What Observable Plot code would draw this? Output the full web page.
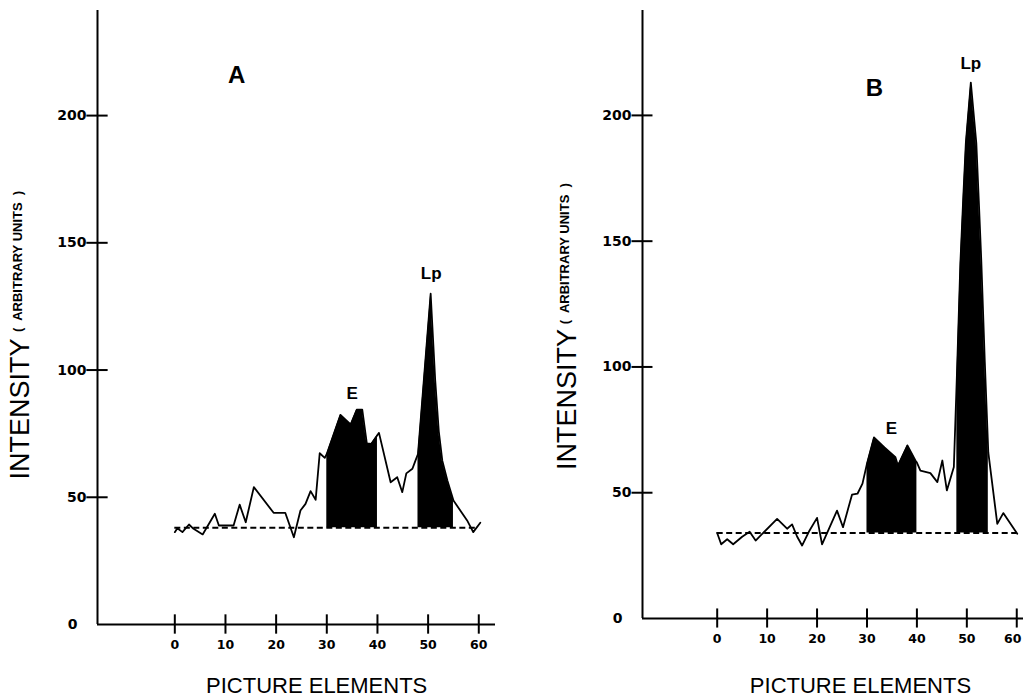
<!DOCTYPE html>
<html><head><meta charset="utf-8">
<script src="https://cdn.jsdelivr.net/npm/d3@7"></script>
<script src="https://cdn.jsdelivr.net/npm/@observablehq/plot@0.6"></script>
<style>
body{margin:0;background:#fff;}
#wrap{position:relative;width:1023px;height:698px;overflow:hidden;background:#fff;}
#wrap > div{position:absolute;top:0;}
</style></head><body>
<div id="wrap"><div id="pa" style="left:0"></div><div id="pb" style="left:545px"></div></div>
<script>
// ---- data ----
const yTicks = [0, 50, 100, 150, 200];
const xTicks = [0, 10, 20, 30, 40, 50, 60];
const panelNames = ["A", "B"];
const peakNames = ["E", "Lp"];
const yTitle = "INTENSITY";
const yUnits = "(  ARBITRARY UNITS  )";
const xTitle = "PICTURE ELEMENTS";

// Panel A intensity profile
const aX = [0, 0.5, 1.5, 2.8, 3.7, 5.5, 7.9, 8.7, 11.6, 12.8, 14, 15.6, 19.5, 21.8, 23.5, 24.8, 25.8, 26.8, 27.8, 28.6, 29.6, 30, 32.7, 34.7, 35.9, 37, 37.9, 38.8, 40, 40.3, 42.6, 43.9, 44.9, 45.7, 46.9, 47.5, 48, 50.5, 51.4, 52.1, 52.8, 53.8, 55, 57.7, 58.9, 60.3];
const aY = [36.3, 37.8, 36.3, 39.3, 37.6, 35.4, 43.5, 38.9, 38.9, 47.1, 40.2, 54, 43.9, 43.9, 34.3, 44.8, 47.4, 52.4, 49, 67.3, 65.5, 67, 82.4, 78.6, 84.4, 84.4, 71.2, 71, 74.5, 75.3, 55.9, 57.9, 52, 59.4, 61.2, 64.4, 67, 130, 96, 76, 64.4, 56.6, 48.7, 40.9, 36.3, 40];
const aBaseline = 38;
const aShade = [[30, 40], [48, 55]];

// Panel B intensity profile
const bX = [0, 0.8, 2, 3.2, 5, 6.5, 7.7, 12, 14, 15, 16, 17, 18.5, 20, 21, 22.4, 24, 25.2, 27, 28.1, 29.1, 30, 31.4, 33.5, 35.7, 36.2, 38.1, 39.7, 40, 40.7, 42.7, 44.1, 45.1, 46, 47.4, 48, 48.7, 49.3, 49.8, 50.8, 51.9, 52.4, 52.9, 53.6, 54.3, 56.1, 57.3, 60.1];
const bY = [34, 29.5, 31.5, 29.5, 32.5, 34.5, 31, 39.6, 35.7, 37.4, 32.6, 29, 35, 40, 29.5, 35.7, 42.9, 36.3, 49.2, 49.6, 53.6, 61.5, 72, 68, 64.1, 60.8, 68.8, 62.8, 62, 58.8, 57.8, 54.2, 62.8, 50.9, 60.2, 96, 141, 168, 189, 213, 189, 166, 142, 102, 66, 37.6, 41.9, 33.7];
const bBaseline = 34;
const bShade = [[30, 40], [48, 54.3]];

// ---- drawing ----
const FONT = "'Liberation Sans', Arial, Helvetica, sans-serif";
const TICKFONT = "'DejaVu Sans', 'Liberation Sans', sans-serif";

function panel(cfg) {
  const pts = cfg.X.map((x, i) => ({x, y: cfg.Y[i]}));
  const [x0, x1] = cfg.xDomain;
  const yTop = cfg.yDomain[1];
  const shades = cfg.shade.map(([lo, hi]) => Plot.areaY(pts.filter(d => d.x >= lo && d.x <= hi), {x: "x", y1: cfg.base, y2: "y", fill: "black"}));
  const tickText = {fontFamily: TICKFONT, fontWeight: "bold", fontSize: 12.5, dy: 20};
  return Plot.plot({
    width: cfg.width, height: 698,
    marginLeft: 97, marginRight: cfg.marginRight, marginTop: 10, marginBottom: cfg.marginBottom,
    x: {domain: cfg.xDomain, axis: null},
    y: {domain: cfg.yDomain, axis: null},
    style: {fontFamily: FONT, background: "white", overflow: "visible"},
    marks: [
      // axes lines
      Plot.ruleX([x0], {y1: 0, y2: yTop, stroke: "black", strokeWidth: 2}),
      Plot.ruleY([0], {x1: x0, x2: x1, stroke: "black", strokeWidth: 2}),
      // y ticks (crossing the axis)
      Plot.ruleY(yTicks.filter(d => d > 0), {y: d => d, x1: x0 - 2.1, x2: x0 + 2.1, stroke: "black", strokeWidth: 2}),
      Plot.text(yTicks.filter(d => d > 0), {x: () => x0, y: d => d, text: d => String(d), textAnchor: "end", dx: -11, fontFamily: TICKFONT, fontWeight: "bold", fontSize: 14}),
      Plot.text(yTicks.filter(d => d === 0), {x: () => x0, y: d => d, text: d => String(d), textAnchor: "end", dx: -20, fontFamily: TICKFONT, fontWeight: "bold", fontSize: 14}),
      // x ticks
      Plot.ruleX(xTicks, {x: d => d, y1: -3.8, y2: 3.8, stroke: "black", strokeWidth: 2}),
      Plot.text(xTicks.filter(d => d < 60), {x: d => d, y: () => 0, text: d => String(d), ...tickText}),
      Plot.text(xTicks.filter(d => d === 60), {x: d => d, y: () => 0, text: d => String(d), dx: cfg.lastDx, ...tickText}),
      // titles
      Plot.text([yTitle], {x: () => x0, y: () => cfg.titleY, text: d => d, rotate: -90, textAnchor: "start", dx: cfg.titleDx, fontSize: 27}),
      Plot.text([yUnits], {x: () => x0, y: () => cfg.unitsY, text: d => d, rotate: -90, textAnchor: "start", dx: cfg.titleDx - 3, fontSize: 13, fontWeight: "bold"}),
      Plot.text([xTitle], {x: () => cfg.xTitleX, y: () => 0, text: d => d, dy: cfg.xTitleDy, fontSize: 22}),
      // profile
      ...shades,
      Plot.ruleY([cfg.base], {x1: 0, x2: 60, stroke: "black", strokeWidth: 2, strokeDasharray: "6,3.5"}),
      Plot.line(pts, {x: "x", y: "y", stroke: "black", strokeWidth: 1.8}),
      // labels
      Plot.text([cfg.letter], {x: () => cfg.letterPos[0], y: () => cfg.letterPos[1], text: d => d, fontSize: 24, fontWeight: 900}),
      Plot.text([peakNames[0]], {x: () => cfg.ePos[0], y: () => cfg.ePos[1], text: d => d, fontSize: 17, fontWeight: "bold"}),
      Plot.text([peakNames[1]], {x: () => cfg.lpPos[0], y: () => cfg.lpPos[1], text: d => d, fontSize: 17, fontWeight: "bold"})
    ]
  });
}

document.getElementById("pa").append(panel({
  X: aX, Y: aY, base: aBaseline, shade: aShade, letter: panelNames[0],
  xDomain: [-15.26, 63.3], yDomain: [0, 241.3],
  width: 545, marginRight: 50, marginBottom: 74,
  titleY: 57, unitsY: 115, titleDx: -77, xTitleX: 28, xTitleDy: 61, lastDx: 0,
  letterPos: [12.2, 215.7], ePos: [35, 90.8], lpPos: [50.6, 138]
}));
document.getElementById("pb").append(panel({
  X: bX, Y: bY, base: bBaseline, shade: bShade, letter: panelNames[1],
  xDomain: [-14.96, 61.35], yDomain: [0, 241.7],
  width: 478, marginRight: 0, marginBottom: 80,
  titleY: 59, unitsY: 117, titleDx: -75, xTitleX: 28.7, xTitleDy: 67, lastDx: -4,
  letterPos: [31.5, 210.7], ePos: [34.9, 75.5], lpPos: [50.8, 220.7]
}));
</script>
</body></html>
